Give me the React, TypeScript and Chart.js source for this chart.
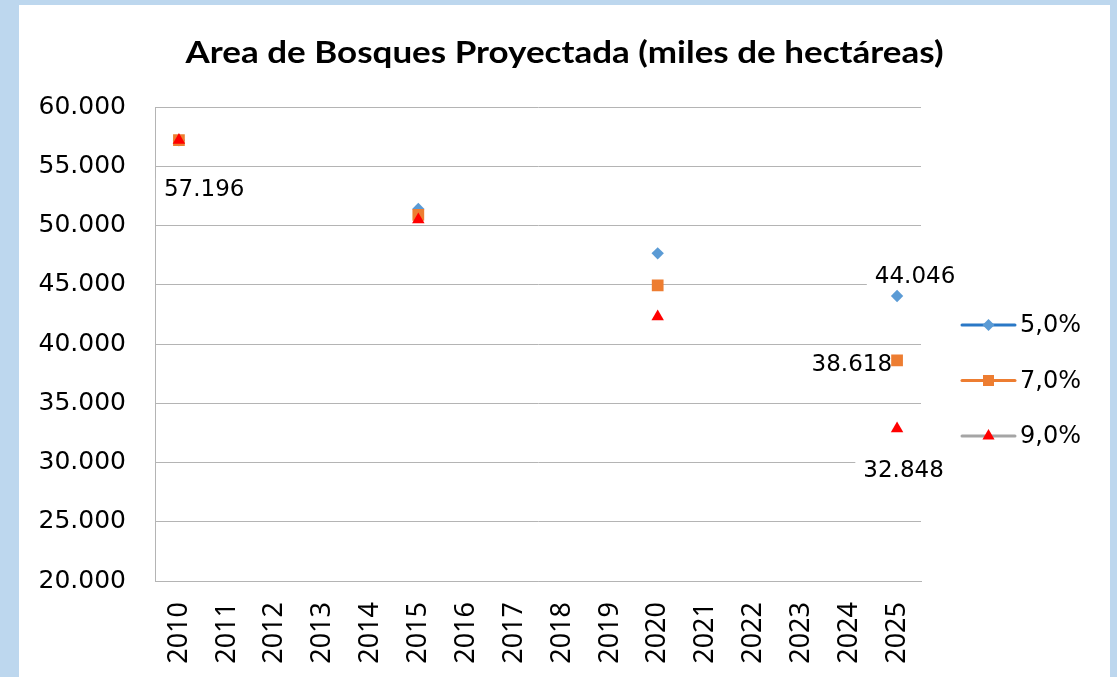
import React, { useEffect, useRef } from "react";
import { Chart, registerables } from "chart.js";

Chart.register(...registerables);

// ---------- data ----------
const categories = [
  "2010", "2011", "2012", "2013", "2014", "2015", "2016", "2017",
  "2018", "2019", "2020", "2021", "2022", "2023", "2024", "2025",
];
const seriesNames = ["5,0%", "7,0%", "9,0%"];
const serie5 = [57196, null, null, null, null, 51400, null, null, null, null, 47650, null, null, null, null, 44046];
const serie7 = [57196, null, null, null, null, 50900, null, null, null, null, 44950, null, null, null, null, 38618];
const serie9 = [57196, null, null, null, null, 50500, null, null, null, null, 42300, null, null, null, null, 32848];
const yMin = 20000;
const yMax = 60000;
const yStep = 5000;
// which points carry a value label: [series index, category index, placement]
const labelSeries = [2, 0, 1, 2];
const labelIndex = [0, 15, 15, 15];
const labelPlace = ["belowRight", "aboveRight", "left", "below"];

const TITLE = "Area de Bosques Proyectada (miles de hectáreas)";

// ---------- styles ----------
const lineColors = ["#2A78C6", "#ED7D31", "#A5A5A5"];
const markerColors = ["#5B9BD5", "#ED7D31", "#FF0000"];
const markerStyles = ["rectRot", "rect", "triangle"];
const markerRadius = [6.2, 8.3, 7.2];
const gridColor = "#B4B4B4";
const numFont = "'DejaVu Sans', sans-serif";

function fmt(v: number): string {
  const s = Math.round(v).toString();
  return s.replace(/\B(?=(\d{3})+(?!\d))/g, ".");
}

const labelOffsets: Record<string, [number, number, CanvasTextAlign]> = {
  belowRight: [-15, 50, "left"],
  aboveRight: [18, -19, "center"],
  left: [-5, 4.5, "right"],
  below: [6.5, 42, "center"],
};

const dataLabelPlugin = {
  id: "dataLabels",
  beforeDatasetsDraw(chart: any) {
    const ctx: CanvasRenderingContext2D = chart.ctx;
    ctx.save();
    ctx.font = `23px ${numFont}`;
    ctx.textBaseline = "middle";
    for (let i = 0; i < labelSeries.length; i++) {
      const ds = chart.data.datasets[labelSeries[i]];
      const v = ds.data[labelIndex[i]];
      const el = chart.getDatasetMeta(labelSeries[i]).data[labelIndex[i]];
      if (!el || v == null) continue;
      const [dx, dy, align] = labelOffsets[labelPlace[i]];
      const text = fmt(v);
      const w = ctx.measureText(text).width;
      const x = el.x + dx;
      const y = el.y + dy;
      let left = x;
      if (align === "center") left = x - w / 2;
      if (align === "right") left = x - w;
      ctx.fillStyle = "#FFFFFF";
      ctx.fillRect(left - 8, y - 12, w + 16, 22);
      ctx.fillStyle = "#000000";
      ctx.textAlign = align;
      ctx.fillText(text, x, y);
    }
    ctx.restore();
  },
};

const titlePlugin = {
  id: "stretchedTitle",
  afterDraw(chart: any) {
    const ctx: CanvasRenderingContext2D = chart.ctx;
    ctx.save();
    ctx.font = "bold 30px Lato, sans-serif";
    ctx.fillStyle = "#000000";
    ctx.textAlign = "center";
    ctx.textBaseline = "alphabetic";
    const w = ctx.measureText(TITLE).width;
    const sx = 758 / w;
    ctx.translate(chart.width / 2, 58);
    ctx.scale(sx, 1);
    ctx.fillText(TITLE, 0, 0);
    ctx.restore();
  },
};

const legendPlugin = {
  id: "lineLegend",
  afterDraw(chart: any) {
    const ctx: CanvasRenderingContext2D = chart.ctx;
    const a = chart.chartArea;
    const x0 = a.right + 41;
    const lineLen = 53;
    const midY = (a.top + a.bottom) / 2 + 36.5;
    const gap = 55.5;
    ctx.save();
    chart.data.datasets.forEach((ds: any, i: number) => {
      const y = midY + (i - 1) * gap;
      ctx.strokeStyle = ds.borderColor;
      ctx.lineWidth = 3;
      ctx.lineCap = "round";
      ctx.beginPath();
      ctx.moveTo(x0, y);
      ctx.lineTo(x0 + lineLen, y);
      ctx.stroke();
      ctx.fillStyle = ds.pointBackgroundColor;
      const cx = x0 + lineLen / 2;
      ctx.beginPath();
      const st = ds.pointStyle;
      if (st === "rectRot") {
        const r = 6;
        ctx.moveTo(cx, y - r);
        ctx.lineTo(cx + r, y);
        ctx.lineTo(cx, y + r);
        ctx.lineTo(cx - r, y);
      } else if (st === "rect") {
        ctx.rect(cx - 5.5, y - 5.5, 11, 11);
      } else {
        const r = 7;
        ctx.moveTo(cx, y - r);
        ctx.lineTo(cx + r * 0.866, y + r / 2);
        ctx.lineTo(cx - r * 0.866, y + r / 2);
      }
      ctx.closePath();
      ctx.fill();
      ctx.fillStyle = "#000000";
      ctx.font = `24px ${numFont}`;
      ctx.textAlign = "left";
      ctx.textBaseline = "middle";
      ctx.fillText(ds.label, x0 + lineLen + 5, y + 1);
    });
    ctx.restore();
  },
};

export default function App() {
  const canvasRef = useRef<HTMLCanvasElement | null>(null);

  useEffect(() => {
    if (!canvasRef.current) return;
    const allSeries = [serie5, serie7, serie9];
    const chart = new Chart(canvasRef.current, {
      type: "line",
      data: {
        labels: categories,
        datasets: allSeries.map((d, i) => ({
          label: seriesNames[i],
          data: d,
          borderColor: lineColors[i],
          borderWidth: 3,
          backgroundColor: markerColors[i],
          pointBackgroundColor: markerColors[i],
          pointBorderColor: markerColors[i],
          pointBorderWidth: 0,
          pointStyle: markerStyles[i] as any,
          pointRadius: markerRadius[i],
          pointHoverRadius: markerRadius[i],
          spanGaps: false,
          showLine: true,
          order: 3 - i,
        })),
      },
      plugins: [dataLabelPlugin, legendPlugin, titlePlugin],
      options: {
        animation: false,
        responsive: false,
        maintainAspectRatio: false,
        layout: { padding: { left: 0, right: 189, top: 102, bottom: 0 } },
        plugins: {
          legend: { display: false },
          tooltip: { enabled: false },
          title: { display: false },
        },
        scales: {
          x: {
            type: "category",
            offset: true,
            grid: { display: false, drawTicks: false },
            border: { display: true, color: gridColor, width: 1 },
            ticks: {
              autoSkip: false,
              maxRotation: 90,
              minRotation: 90,
              padding: 21,
              color: "#000000",
              font: { family: "'Noto Sans', sans-serif", size: 27 },
            },
            afterFit: (scale: any) => {
              scale.height = 96;
            },
          },
          y: {
            min: yMin,
            max: yMax,
            grid: { color: gridColor, lineWidth: 1, drawTicks: false },
            border: { display: true, color: gridColor, width: 1 },
            ticks: {
              stepSize: yStep,
              padding: 29,
              color: "#000000",
              font: { family: numFont, size: 25 },
              callback: (v: any) => fmt(Number(v)),
            },
            afterFit: (scale: any) => {
              scale.width = 136;
            },
          },
        },
      },
    });
    return () => chart.destroy();
  }, []);

  return (
    <div
      style={{
        position: "fixed",
        left: 0,
        top: 0,
        width: 1117,
        height: 677,
        background: "#BDD7EE",
        overflow: "hidden",
      }}
    >
      <div
        style={{
          position: "absolute",
          left: 19,
          top: 5,
          width: 1091,
          height: 672,
          background: "#FFFFFF",
        }}
      >
        <canvas ref={canvasRef} width={1091} height={672} style={{ display: "block" }} />
      </div>
    </div>
  );
}
